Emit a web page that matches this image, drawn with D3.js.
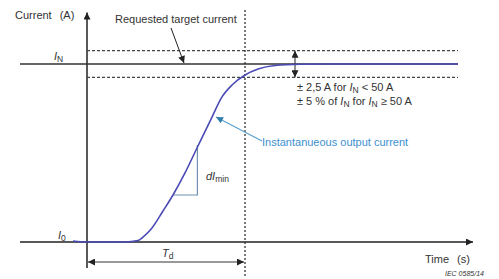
<!DOCTYPE html>
<html>
<head>
<meta charset="utf-8">
<script src="https://cdn.jsdelivr.net/npm/d3@7"></script>
<style>
  body { margin: 0; background: #fff; }
  text { font-family: "Liberation Sans", Arial, sans-serif; fill: #333; }
</style>
</head>
<body>
<svg width="499" height="279"></svg>
<script>
// curve of the output current (time in arbitrary units, current in % of IN)
var curveTime = [-3.5, 0, 9.5, 12.75, 14, 16.25, 19, 21.5, 24.5, 27.5, 31.25, 33.75, 36.25, 39.5, 42.75, 47, 53.25, 60.75, 92.75];
var curveCurrent = [0.6, 0, 0, 0.8, 2.8, 7.9, 17.4, 26.4, 38.8, 52.8, 70.2, 81.5, 88.2, 93.8, 97.2, 99.2, 99.9, 100, 100];

var nominal = 100,      // IN
    tolerance = 7.5,    // band around IN
    tdTime = 39.5;      // Td

var tolLabels = ["± 2,5 A for ", "± 5 % of "];

var svg = d3.select("svg");

var x = d3.scaleLinear().domain([0, 100]).range([87, 487]),
    y = d3.scaleLinear().domain([0, 100]).range([242, 64]);

var defs = svg.append("defs");
function marker(id, color) {
    defs.append("marker")
        .attr("id", id)
        .attr("viewBox", "0 0 10 10")
        .attr("refX", 10).attr("refY", 5)
        .attr("markerWidth", 10).attr("markerHeight", 7)
        .attr("markerUnits", "userSpaceOnUse")
        .attr("orient", "auto-start-reverse")
        .append("path")
        .attr("d", "M0,0L10,5L0,10z")
        .attr("fill", color);
}
marker("arr", "#222");
marker("arrBlue", "#2f7fae");

// axes (plain arrows)
svg.append("line")
    .attr("x1", x(-16.75)).attr("x2", x(96.5))
    .attr("y1", y(0)).attr("y2", y(0))
    .attr("stroke", "#222").attr("stroke-width", 1.5)
    .attr("marker-end", "url(#arr)");
svg.append("line")
    .attr("x1", x(0)).attr("x2", x(0))
    .attr("y1", y(-14.6)).attr("y2", y(129))
    .attr("stroke", "#222").attr("stroke-width", 1.5)
    .attr("marker-end", "url(#arr)");

// nominal line and tolerance band
svg.append("line")
    .attr("x1", x(-16.75)).attr("x2", x(92.75))
    .attr("y1", y(nominal)).attr("y2", y(nominal))
    .attr("stroke", "#333").attr("stroke-width", 1.5);
[nominal + tolerance, nominal - tolerance].forEach(function (v) {
    svg.append("line")
        .attr("x1", x(0)).attr("x2", x(92.75))
        .attr("y1", y(v)).attr("y2", y(v))
        .attr("stroke", "#444").attr("stroke-width", 1.3)
        .attr("stroke-dasharray", "3,2");
});

// Td vertical dotted line
svg.append("line")
    .attr("x1", x(tdTime)).attr("x2", x(tdTime))
    .attr("y1", 10).attr("y2", 276)
    .attr("stroke", "#333").attr("stroke-width", 1.3)
    .attr("stroke-dasharray", "2,2");

// tolerance double arrow
svg.append("line")
    .attr("x1", 295).attr("x2", 295)
    .attr("y1", y(nominal + tolerance)).attr("y2", y(nominal - tolerance))
    .attr("stroke", "#222").attr("stroke-width", 1)
    .attr("marker-start", "url(#arr)").attr("marker-end", "url(#arr)");

// Td double arrow
svg.append("line")
    .attr("x1", x(0) + 1).attr("x2", x(tdTime) - 1)
    .attr("y1", 262).attr("y2", 262)
    .attr("stroke", "#333").attr("stroke-width", 1)
    .attr("marker-start", "url(#arr)").attr("marker-end", "url(#arr)");

// slope triangle
svg.append("path")
    .attr("d", "M" + x(21.5) + "," + y(26.4) + "H" + x(27.6) + "V" + 145)
    .attr("fill", "none").attr("stroke", "#6f92b0").attr("stroke-width", 1.2);

// current curve
var line = d3.line()
    .x(function (d, i) { return x(curveTime[i]); })
    .y(function (d) { return y(d); })
    .curve(d3.curveMonotoneX);
svg.append("path")
    .datum(curveCurrent)
    .attr("d", line)
    .attr("fill", "none")
    .attr("stroke", "#4b4bb5")
    .attr("stroke-width", 1.6);

// requested target current arrow
svg.append("line")
    .attr("x1", 171).attr("y1", 28).attr("x2", 184).attr("y2", y(nominal) - 1)
    .attr("stroke", "#222").attr("stroke-width", 1)
    .attr("marker-end", "url(#arr)");

// instantaneous output current arrow
svg.append("line")
    .attr("x1", 262).attr("y1", 141).attr("x2", 216).attr("y2", 117)
    .attr("stroke", "#5fa3cf").attr("stroke-width", 1.4)
    .attr("marker-end", "url(#arrBlue)");

// texts
function label(tx, ty, parts, opts) {
    opts = opts || {};
    var t = svg.append("text").attr("x", tx).attr("y", ty)
        .attr("font-size", opts.size || 11);
    if (opts.fill) t.style("fill", opts.fill);
    if (opts.italic) t.attr("font-style", "italic");
    parts.forEach(function (p) {
        var s = t.append("tspan").text(p.t);
        if (p.i) s.attr("font-style", "italic");
        if (p.sub) s.attr("baseline-shift", "-25%").attr("font-size", "8.5");
        if (p.dx) s.attr("dx", p.dx);
    });
    return t;
}

label(15, 19, [{t: "Current"}, {t: "(A)", dx: 8}]);
label(115, 23, [{t: "Requested target current"}]);
label(54, 60, [{t: "I", i: true}, {t: "N", sub: true}]);
label(58, 239, [{t: "I", i: true}, {t: "0", sub: true}]);
label(162, 257, [{t: "T", i: true}, {t: "d", sub: true}]);
label(206, 180, [{t: "dI", i: true}, {t: "min", sub: true}]);
label(262, 146, [{t: "Instantanueous output current"}], {fill: "#3d8fd0"});
label(297, 91, [{t: tolLabels[0]}, {t: "I", i: true}, {t: "N", sub: true}, {t: " < 50 A"}]);
label(297, 105, [{t: tolLabels[1]}, {t: "I", i: true}, {t: "N", sub: true}, {t: " for "}, {t: "I", i: true}, {t: "N", sub: true}, {t: " ≥ 50 A"}]);
label(425, 263, [{t: "Time"}, {t: "(s)", dx: 8}]);
label(445, 276, [{t: "IEC  0585/14"}], {size: 7, italic: true});
</script>
</body>
</html>
